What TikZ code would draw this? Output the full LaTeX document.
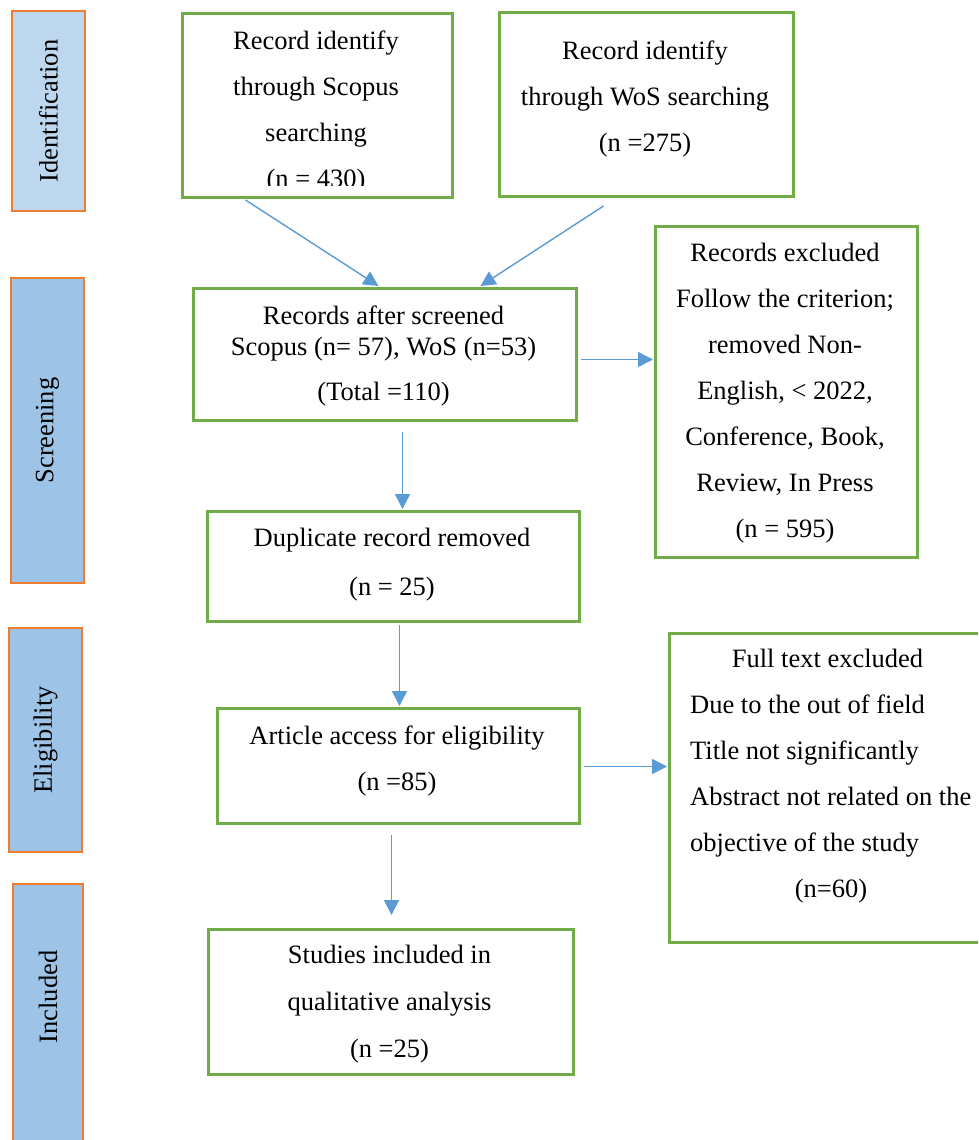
\documentclass[tikz,border=0pt]{standalone}
\usepackage{fontspec}
\setmainfont{Liberation Serif}
\usetikzlibrary{arrows.meta,calc}
\definecolor{gboxc}{RGB}{112,173,71}
\definecolor{arrc}{RGB}{91,155,213}
\definecolor{barborder}{RGB}{237,125,49}
\definecolor{barfillA}{RGB}{189,215,238}
\definecolor{barfillB}{RGB}{157,195,230}
\tikzset{
  gbox/.style={draw=gboxc, line width=3pt, fill=white, inner sep=0pt, anchor=north west},
  sidebar/.style={draw=barborder, line width=1.5pt, fill=barfillB, inner sep=0pt},
  sidelbl/.style={rotate=90, inner sep=0pt, font=\fontsize{26.5}{32}\selectfont},
  txt/.style={anchor=base, inner sep=0pt, font=\fontsize{26.5}{32}\selectfont},
  txtl/.style={anchor=base west, inner sep=0pt, font=\fontsize{26.5}{32}\selectfont},
  arr/.style={draw=arrc, line width=1.4pt, -{Triangle[length=15pt,width=15pt]}}
}
\begin{document}
\begin{tikzpicture}[x=1pt,y=-1pt]
\useasboundingbox (0,0) rectangle (978,1140);
\clip (0,0) rectangle (978,1140);
\fill[white] (0,0) rectangle (978,1140);

% side bars
\node[sidebar, fill=barfillA, minimum width=73pt, minimum height=200pt] (idbar) at (48.5,111) {};
\node[sidelbl] (idlbl) at (idbar.center) {Identification};
\node[sidebar, minimum width=73pt, minimum height=305pt] (scbar) at (47.5,430.5) {};
\node[sidelbl] (sclbl) at (scbar.center) {Screening};
\node[sidebar, minimum width=73pt, minimum height=224pt] (elbar) at (45.5,740) {};
\node[sidelbl] (ellbl) at (elbar.center) {Eligibility};
\node[sidebar, minimum width=70pt, minimum height=276pt] (inbar) at (48,1022) {};
\node[sidelbl] (inlbl) at (48,997) {Included};

% boxes
\node[gbox, minimum width=270pt, minimum height=184pt] (scopus) at (181,12) {};
\node[gbox, minimum width=294pt, minimum height=184pt] (wos) at (498,11) {};
\node[gbox, minimum width=383pt, minimum height=132pt] (screened) at (192,287) {};
\node[gbox, minimum width=262pt, minimum height=331pt] (excl) at (654,225) {};
\node[gbox, minimum width=372pt, minimum height=110pt] (dup) at (206,510) {};
\node[gbox, minimum width=362pt, minimum height=115pt] (art) at (216,707) {};
\node[gbox, minimum width=330pt, minimum height=309pt] (full) at (668,632) {};
\node[gbox, minimum width=365pt, minimum height=145pt] (stud) at (207,928) {};

% texts: Scopus
\node[txt] (s1) at (316,49) {Record identify};
\node[txt] (s2) at (316,95) {through Scopus};
\node[txt] (s3) at (316,141) {searching};
\begin{scope}
\clip (183,14) rectangle (449,185);
\node[txt] (s4) at (316,187) {(n = 430)};
\end{scope}
% WoS
\node[txt] (w1) at (645,59.5) {Record identify};
\node[txt] (w2) at (645,105) {through WoS searching};
\node[txt] (w3) at (645,151) {(n =275)};
% screened
\node[txt] (r1) at (383.5,324) {Records after screened};
\node[txt] (r2) at (383.5,355) {Scopus (n= 57), WoS (n=53)};
\node[txt] (r3) at (383.5,400) {(Total =110)};
% excluded
\node[txt] (e1) at (785,261) {Records excluded};
\node[txt] (e2) at (785,307) {Follow the criterion;};
\node[txt] (e3) at (785,353) {removed Non-};
\node[txt] (e4) at (785,399) {English, < 2022,};
\node[txt] (e5) at (785,445) {Conference, Book,};
\node[txt] (e6) at (785,491) {Review, In Press};
\node[txt] (e7) at (785,537) {(n = 595)};
% duplicate
\node[txt] (d1) at (392,546) {Duplicate record removed};
\node[txt] (d2) at (392,595) {(n = 25)};
% article
\node[txt] (a1) at (397,744) {Article access for eligibility};
\node[txt] (a2) at (397,790) {(n =85)};
% full text
\node[txt] (f1) at (827.5,667) {Full text excluded};
\node[txtl] (f2) at (690,713) {Due to the out of field};
\node[txtl] (f3) at (690,759) {Title not significantly};
\node[txtl] (f4) at (690,805) {Abstract not related on the};
\node[txtl] (f5) at (690,851) {objective of the study};
\node[txt] (f6) at (831,897) {(n=60)};
% studies
\node[txt] (u1) at (389.5,963) {Studies included in};
\node[txt] (u2) at (389.5,1010) {qualitative analysis};
\node[txt] (u3) at (389.5,1057) {(n =25)};

% arrows
\draw[arr] ($(scopus.south)+(-72,1)$) -- ($(screened.north)+(-6.5,-1)$);
\draw[arr] ($(wos.south)+(-43,8)$) -- ($(screened.north)+(95.5,-1)$);
\draw[arr] ($(screened.east)+(3,5)$) -- ($(excl.west)+(-1,-32.5)$);
\draw[arr] ($(screened.south)+(17.5,10)$) -- ($(dup.north)+(9,-1)$);
\draw[arr] ($(dup.south)+(6,2)$) -- ($(art.north)+(1,-1)$);
\draw[arr] ($(art.east)+(3,0.5)$) -- ($(full.west)+(-1,-21.5)$);
\draw[arr] ($(art.south)+(-7,10)$) -- ($(stud.north)+(0.5,-13)$);
\end{tikzpicture}
\end{document}
